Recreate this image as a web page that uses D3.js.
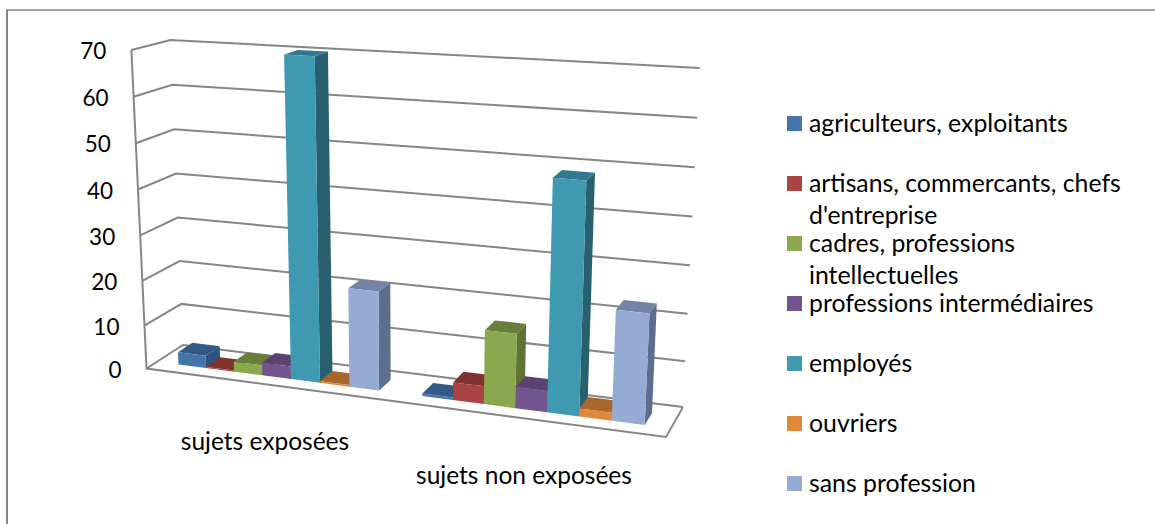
<!DOCTYPE html>
<html lang="fr">
<head>
<meta charset="utf-8">
<script src="https://cdn.jsdelivr.net/npm/d3@7"></script>
<style>
html, body { margin: 0; padding: 0; background: #fff; }
svg { display: block; }
text { font-family: Lato, "Open Sans", sans-serif; fill: #000; }
</style>
</head>
<body>
<svg id="chart" width="1155" height="524"></svg>
<script>
// Répartition socioprofessionnelle des sujets, en colonnes 3D groupées
const categories = ["sujets exposées", "sujets non exposées"];
const seriesNames = [
  "agriculteurs, exploitants",
  "artisans, commercants, chefs d'entreprise",
  "cadres, professions intellectuelles",
  "professions intermédiaires",
  "employés",
  "ouvriers",
  "sans profession"
];
const valuesExposes = [3, 0.3, 2.4, 3, 70, 0.4, 21.7];
const valuesNonExposes = [0.6, 4, 16, 4.7, 48.6, 1.8, 23.2];
const tickValues = [0, 10, 20, 30, 40, 50, 60, 70];
const legendLines = [
  ["agriculteurs, exploitants"],
  ["artisans, commercants, chefs", "d'entreprise"],
  ["cadres, professions", "intellectuelles"],
  ["professions intermédiaires"],
  ["employés"],
  ["ouvriers"],
  ["sans profession"]
];
const frontColors = ["#4575ab", "#a94442", "#8aa84d", "#72558f", "#3f99b1", "#e0873a", "#95abd3"];
const topColors   = ["#335a85", "#80332f", "#687f3b", "#5a4370", "#2f7a8e", "#a8672c", "#7283a5"];
const sideColors  = ["#2f5480", "#752e2c", "#5f7334", "#523d67", "#296070", "#9a5e28", "#5d6d8d"];

// Plancher de la boîte 3D (avant-gauche, avant-droit, arrière-droit, arrière-gauche)
// et hauteur à l'écran de l'axe vertical en chacun de ces coins
const floorQuad = [[146.5, 368.5], [666, 437], [683, 407], [183, 345]];
const cornerHeights = [318.5, 353, 339, 305];
// Fuite des verticales : abscisse où elles restent droites, et inclinaison par pixel
const plumbX = 410, leanRate = 0.00018;

// Homographie du carré unité vers un quadrilatère
function quadMap(q) {
  const [[x0, y0], [x1, y1], [x2, y2], [x3, y3]] = q;
  const sx = x0 - x1 + x2 - x3, sy = y0 - y1 + y2 - y3;
  const dx1 = x1 - x2, dx2 = x3 - x2, dy1 = y1 - y2, dy2 = y3 - y2;
  const den = dx1 * dy2 - dx2 * dy1;
  const g = (sx * dy2 - dx2 * sy) / den, h = (dx1 * sy - sx * dy1) / den;
  const a = x1 - x0 + g * x1, b = x3 - x0 + h * x3;
  const d = y1 - y0 + g * y1, e = y3 - y0 + h * y3;
  return (u, w) => {
    const k = g * u + h * w + 1;
    return [(a * u + b * w + x0) / k, (d * u + e * w + y0) / k];
  };
}
const floorAt = quadMap(floorQuad);

const heightScale = d3.scalePow().exponent(1.03).domain([0, 70]).range([0, 1]);
// Point de la boîte : position u, profondeur w, valeur v
function project(u, w, v) {
  const base = floorAt(u, w);
  const h = (1 - u) * (1 - w) * cornerHeights[0] + u * (1 - w) * cornerHeights[1]
          + u * w * cornerHeights[2] + (1 - u) * w * cornerHeights[3];
  const rise = h * heightScale(v);
  return [base[0] + (base[0] - plumbX) * leanRate * rise, base[1] - rise];
}

const svg = d3.select("#chart");
const poly = d3.line().curve(d3.curveLinearClosed);
const grid = "#868686";

// Cadre extérieur
svg.append("path").attr("d", "M7,524V10").attr("fill", "none").attr("stroke", grid).attr("stroke-width", 2);
svg.append("path").attr("d", "M6,10H1155").attr("fill", "none").attr("stroke", grid).attr("stroke-width", 1.5);

// Grille des murs et plancher
const frame = svg.append("g").attr("fill", "none").attr("stroke", grid).attr("stroke-width", 2);
tickValues.forEach(v => {
  frame.append("path").attr("d", d3.line()([project(0, 0, v), project(0, 1, v), project(1, 1, v)]));
});
frame.append("path").attr("d", d3.line()([project(0, 0, 70), project(0, 0, 0), project(1, 0, 0), project(1, 1, 0)]));

// Échelles de position des colonnes
const groupScale = d3.scaleBand().domain(categories).range([0, 1]).paddingInner(0.17).paddingOuter(0.093);
const barScale = d3.scaleBand().domain(seriesNames).range([0, groupScale.bandwidth()]);
const depthFront = 0.28, depthBack = 0.68;
// Léger étirement de la perspective horizontale vers la droite
const spread = u => u + 0.03 * u * (1 - u);

const rows = [valuesExposes, valuesNonExposes];
const bars = svg.append("g");
categories.forEach((cat, ci) => {
  seriesNames.forEach((name, si) => {
    const v = rows[ci][si];
    const start = groupScale(cat) + barScale(name);
    const u0 = spread(start);
    const u1 = spread(start + barScale.bandwidth());
    const g = bars.append("g");
    g.append("path").attr("fill", sideColors[si]).attr("d", poly([
      project(u1, depthFront, 0), project(u1, depthBack, 0), project(u1, depthBack, v), project(u1, depthFront, v)
    ]));
    g.append("path").attr("fill", topColors[si]).attr("d", poly([
      project(u0, depthFront, v), project(u1, depthFront, v), project(u1, depthBack, v), project(u0, depthBack, v)
    ]));
    g.append("path").attr("fill", frontColors[si]).attr("d", poly([
      project(u0, depthFront, 0), project(u1, depthFront, 0), project(u1, depthFront, v), project(u0, depthFront, v)
    ]));
  });
});

// Axe des valeurs : chaque graduation suit l'arête avant gauche de la boîte
const yLabels = d3.scaleLinear().domain([0, 70]).range([369, 51]);
const yAxis = d3.axisLeft(yLabels).tickValues(tickValues).tickSize(0).tickPadding(0).tickFormat(d3.format("d"));
const axisG = svg.append("g").call(yAxis);
axisG.select(".domain").remove();
axisG.selectAll(".tick").attr("transform", d => {
  const p = project(0, 0, d);
  return `translate(${p[0] - 25},${p[1] + 1})`;
});
axisG.selectAll("text").style("font-family", "Lato, sans-serif").style("font-size", "22.5px").attr("dy", "0.36em");

// Étiquettes des catégories
const categoryLabelPos = [[265, 441], [524, 475]];
svg.append("g").selectAll("text").data(categories).join("text")
  .attr("x", (d, i) => categoryLabelPos[i][0])
  .attr("y", (d, i) => categoryLabelPos[i][1])
  .attr("dy", "0.36em")
  .attr("text-anchor", "middle")
  .style("font-size", "24.5px")
  .text(d => d);

// Légende
const legendY = d3.scalePoint().domain(seriesNames).range([123.5, 483.5]);
const legend = svg.append("g").selectAll("g").data(seriesNames).join("g")
  .attr("transform", d => `translate(0,${legendY(d)})`);
legend.append("rect").attr("x", 787).attr("y", -7.5).attr("width", 15).attr("height", 15)
  .attr("fill", (d, i) => frontColors[i]);
legend.each(function(d, i) {
  const sel = d3.select(this);
  legendLines[i].forEach((line, li) => {
    sel.append("text").attr("x", 809).attr("y", li * 32).attr("dy", "0.36em")
      .style("font-size", "24.8px").text(line);
  });
});
</script>
</body>
</html>
